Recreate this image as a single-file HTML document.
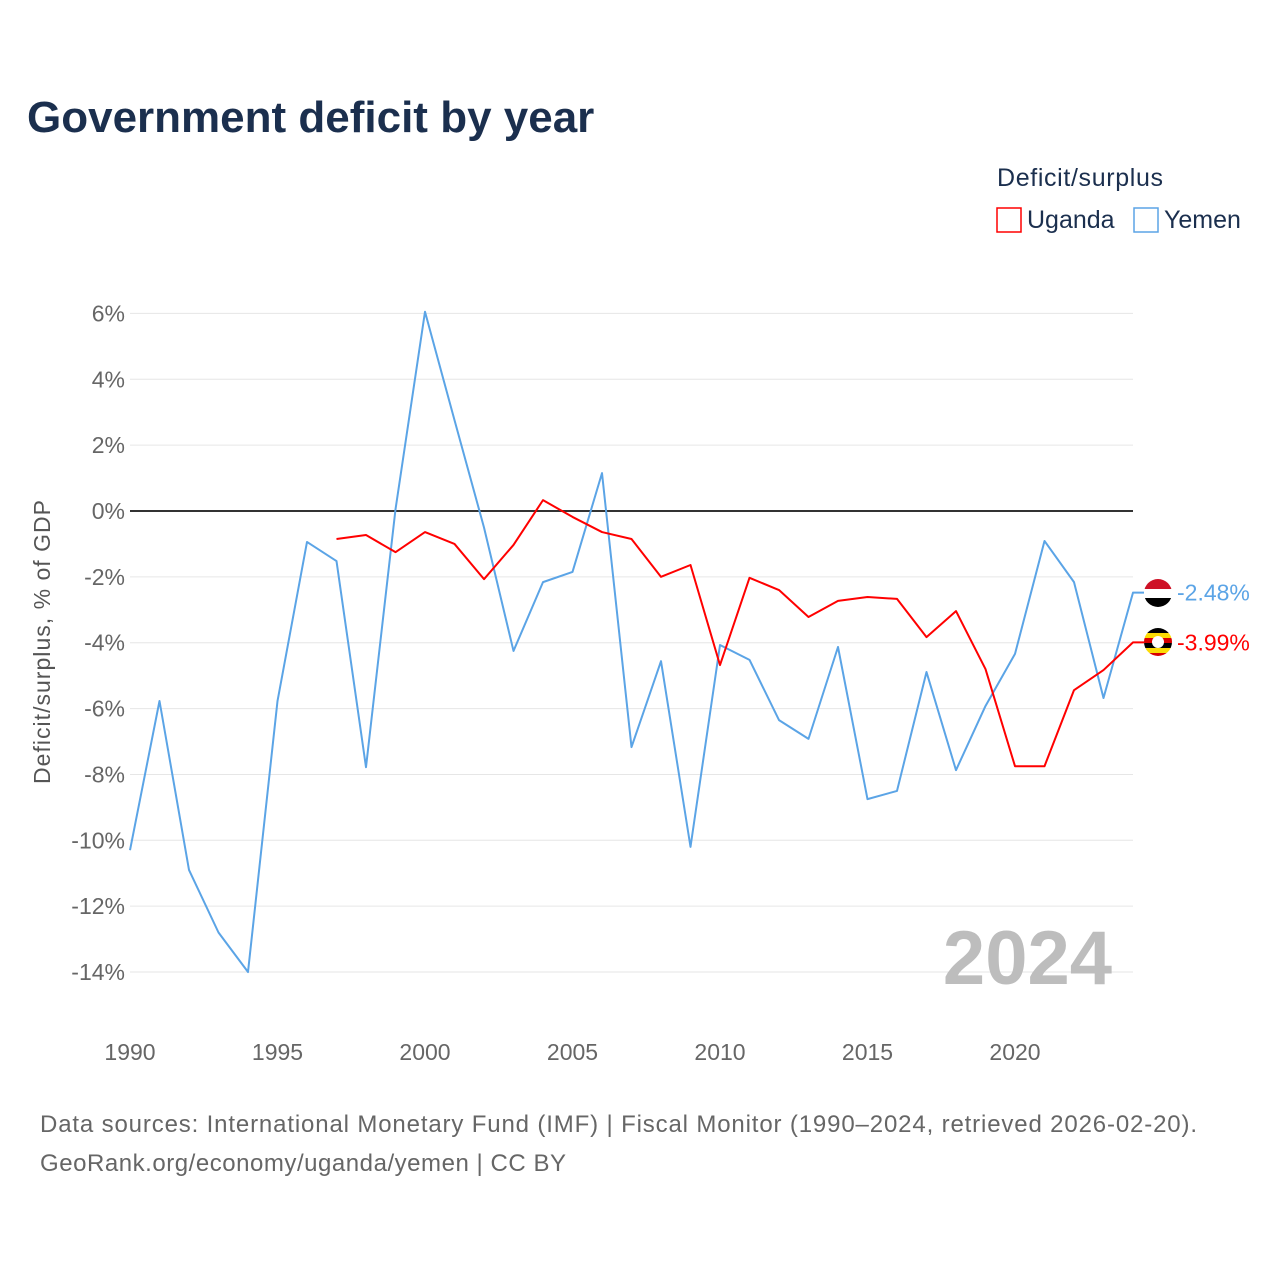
<!DOCTYPE html>
<html><head><meta charset="utf-8"><style>
body{margin:0;background:#fff;}
svg text{font-family:"Liberation Sans",sans-serif;}
</style></head><body>
<svg id="chart" width="1280" height="1280" viewBox="0 0 1280 1280" xmlns="http://www.w3.org/2000/svg">
<text x="27" y="132" font-size="44" font-weight="bold" fill="#1b2f4e">Government deficit by year</text>
<text x="997" y="186" font-size="25" fill="#1b2f4e" textLength="166">Deficit/surplus</text>
<g><rect x="997" y="208" width="24" height="24" fill="none" stroke="#ff0000" stroke-width="1.5"/><text x="1027" y="228" font-size="25" fill="#1b2f4e">Uganda</text></g>
<g><rect x="1134" y="208" width="24" height="24" fill="none" stroke="#5ba4e6" stroke-width="1.5"/><text x="1164" y="228" font-size="25" fill="#1b2f4e">Yemen</text></g>
<text transform="translate(50,642) rotate(-90)" text-anchor="middle" font-size="23" fill="#555" textLength="284">Deficit/surplus, % of GDP</text>
<g id="grid"></g><g id="yticks"></g><g id="xticks"></g>
<text x="1112" y="984" text-anchor="end" font-size="76" font-weight="bold" fill="#bdbdbd">2024</text>
<g id="series"></g>
<g id="flags">
<g><clipPath id="cy"><circle cx="1158" cy="593" r="14"/></clipPath><g clip-path="url(#cy)"><rect x="1144" y="579" width="28" height="10" fill="#ce1126"/><rect x="1144" y="589" width="28" height="9" fill="#fff"/><rect x="1144" y="598" width="28" height="10" fill="#000"/></g></g>
<g><clipPath id="cu"><circle cx="1158" cy="642" r="14"/></clipPath><g clip-path="url(#cu)"><rect x="1144" y="628" width="28" height="5" fill="#000"/><rect x="1144" y="633" width="28" height="5" fill="#fcdc04"/><rect x="1144" y="638" width="28" height="5" fill="#d90000"/><rect x="1144" y="643" width="28" height="5" fill="#000"/><rect x="1144" y="648" width="28" height="5" fill="#fcdc04"/><rect x="1144" y="653" width="28" height="5" fill="#d90000"/><circle cx="1158" cy="642" r="6" fill="#fff"/></g></g>
</g>
<text x="40" y="1132" font-size="24" fill="#666" textLength="1157">Data sources: International Monetary Fund (IMF) | Fiscal Monitor (1990–2024, retrieved 2026-02-20).</text>
<text x="40" y="1171" font-size="24" fill="#666" textLength="526">GeoRank.org/economy/uganda/yemen | CC BY</text>
</svg>
<script>
const years=[1990,1991,1992,1993,1994,1995,1996,1997,1998,1999,2000,2001,2002,2003,2004,2005,2006,2007,2008,2009,2010,2011,2012,2013,2014,2015,2016,2017,2018,2019,2020,2021,2022,2023,2024];
const yemen=[-10.3,-5.77,-10.9,-12.8,-14.0,-5.77,-0.94,-1.52,-7.78,0.05,6.05,2.76,-0.5,-4.25,-2.16,-1.85,1.15,-7.17,-4.56,-10.2,-4.07,-4.52,-6.35,-6.92,-4.13,-8.75,-8.5,-4.89,-7.87,-5.92,-4.34,-0.91,-2.16,-5.68,-2.48];
const ugandaYears=[1997,1998,1999,2000,2001,2002,2003,2004,2005,2006,2007,2008,2009,2010,2011,2012,2013,2014,2015,2016,2017,2018,2019,2020,2021,2022,2023,2024];
const uganda=[-0.85,-0.73,-1.25,-0.64,-1.0,-2.07,-1.03,0.33,-0.18,-0.64,-0.85,-2.0,-1.64,-4.68,-2.03,-2.4,-3.22,-2.73,-2.61,-2.67,-3.83,-3.04,-4.8,-7.75,-7.75,-5.44,-4.83,-3.99];
const yTicks=[6,4,2,0,-2,-4,-6,-8,-10,-12,-14];
const xTicks=[1990,1995,2000,2005,2010,2015,2020];
const NS="http://www.w3.org/2000/svg";
const X=y=>130+(y-1990)*(1133-130)/34;
const Y=v=>511-v*32.93;
function mk(t,a,p){const e=document.createElementNS(NS,t);for(const k in a)e.setAttribute(k,a[k]);p.appendChild(e);return e;}
const grid=document.getElementById('grid'),yt=document.getElementById('yticks'),xt=document.getElementById('xticks'),se=document.getElementById('series');
yTicks.forEach(v=>{
 const l=mk('line',{x1:130,x2:1133,y1:Y(v),y2:Y(v),stroke:v===0?'#333':'#e6e6e6','stroke-width':v===0?2:1},grid);
 
 
 const t=mk('text',{x:125,y:Y(v)+8,'text-anchor':'end','font-size':23,fill:'#666'},yt);
 t.textContent=v+'%';
 
 
});
xTicks.forEach(v=>{
 const t=mk('text',{x:X(v),y:1060,'text-anchor':'middle','font-size':23,fill:'#666'},xt);
 t.textContent=v;
 
 
});
function line(xs,vs,c,name){
 const last=vs[vs.length-1];
 const pts=xs.map((x,i)=>X(x)+','+Y(vs[i]));
 pts.push('1144,'+Y(last));
 const p=mk('polyline',{points:pts.join(' '),fill:'none',stroke:c,'stroke-width':2,'stroke-linejoin':'round'},se);
 
 
 const t=mk('text',{x:1177,y:Y(last)+8,'font-size':23,fill:c},se);
 t.textContent=last.toFixed(2)+'%';
 
 
}
line(years,yemen,'#5ba4e6','yemen-line');
line(ugandaYears,uganda,'#ff0000','uganda-line');
</script>
</body></html>
